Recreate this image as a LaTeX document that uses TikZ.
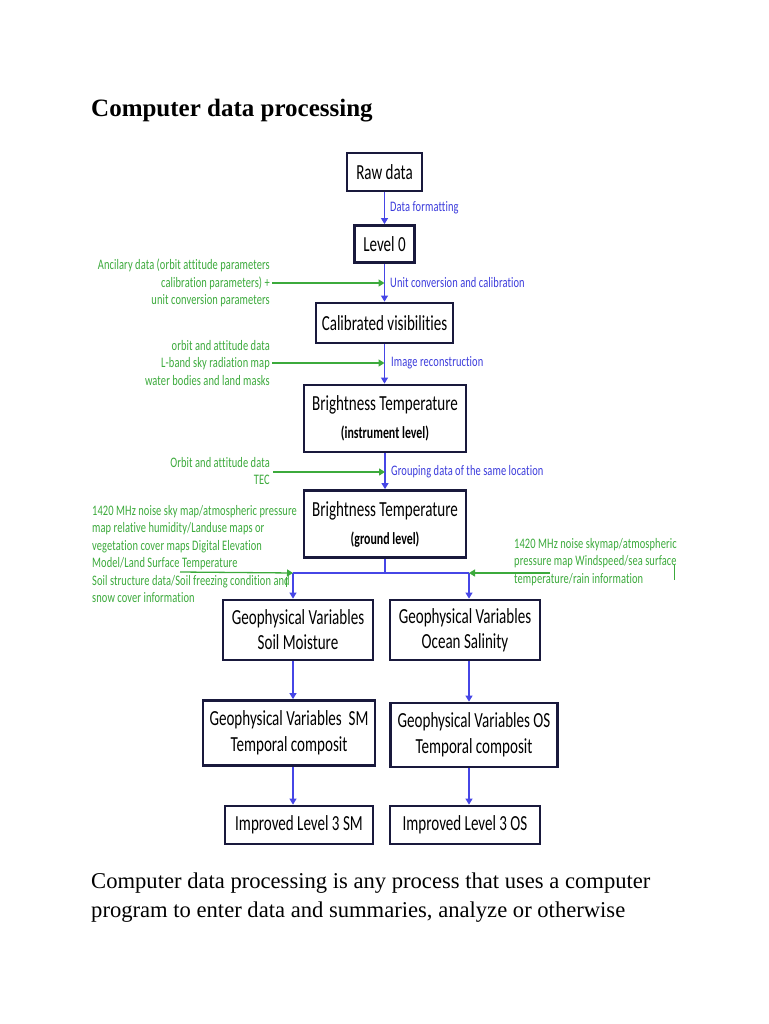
\documentclass[tikz,border=0pt]{standalone}
\usepackage{fontspec}
\setmainfont{Liberation Serif}
\newfontfamily\boxfont[FakeStretch=0.7,Ligatures=NoCommon]{Carlito}
\newfontfamily\labfont[FakeStretch=0.72,Ligatures=NoCommon,LetterSpace=0.7]{Carlito}
\newcommand\sublinefont{\boxfont\bfseries\fontsize{17}{20}\selectfont}
\usetikzlibrary{arrows.meta}
\definecolor{bxline}{RGB}{25,25,60}
\definecolor{ablue}{RGB}{70,70,230}
\definecolor{lblue}{RGB}{60,60,220}
\definecolor{agreen}{RGB}{60,170,60}
\tikzset{
  fbox/.style={draw=bxline,line width=2.8pt,fill=white,inner sep=0pt,align=center,
    font=\boxfont\fontsize{21.5}{26}\selectfont},
  barrow/.style={draw=ablue,line width=1.1pt,-{Triangle[width=7pt,length=6pt]}},
  bline/.style={draw=ablue,line width=1.1pt},
  garrow/.style={draw=agreen,line width=1.3pt,-{Triangle[width=7pt,length=6pt]}},
  glabel/.style={text=agreen,inner sep=2pt,font=\labfont\fontsize{14.5}{17.5}\selectfont},
  blabel/.style={text=lblue,inner sep=0pt,anchor=west,font=\labfont\fontsize{14.5}{17.5}\selectfont}
}
\begin{document}
\begin{tikzpicture}[x=1pt,y=-1pt]
\useasboundingbox[fill=white] (0,0) rectangle (768,1024);
% title and text
\node[anchor=base west,inner sep=0pt,font=\bfseries\fontsize{25}{30}\selectfont] (title) at (91,117) {Computer data processing};
\node[anchor=base west,inner sep=0pt,font=\fontsize{22.6}{29}\selectfont] (body1) at (91,888) {Computer data processing is any process that uses a computer};
\node[anchor=base west,inner sep=0pt,font=\fontsize{22.6}{29}\selectfont] (body2) at (91,917) {program to enter data and summaries, analyze or otherwise};
% boxes
\node[fbox,minimum width=75pt,minimum height=38pt] (raw) at (384.5,172) {Raw data};
\node[fbox,minimum width=60pt,minimum height=37pt] (lvl0) at (384.5,244) {Level 0};
\node[fbox,minimum width=137pt,minimum height=40pt] (cal) at (384.5,323) {Calibrated visibilities};
\node[fbox,minimum width=162pt,minimum height=67pt] (bti) at (385,418.5) {Brightness Temperature\\[2pt]{\sublinefont (instrument level)}};
\node[fbox,minimum width=162pt,minimum height=67pt] (btg) at (385,524) {Brightness Temperature\\[2pt]{\sublinefont (ground level)}};
\node[fbox,minimum width=150pt,minimum height=60pt,font=\boxfont\fontsize{21.5}{25}\selectfont] (gsm) at (298,630) {Geophysical Variables\\Soil Moisture};
\node[fbox,minimum width=150pt,minimum height=60pt,font=\boxfont\fontsize{21.5}{25}\selectfont] (gos) at (465,630) {Geophysical Variables\\Ocean Salinity};
\node[fbox,minimum width=172pt,minimum height=65pt] (tsm) at (289,733) {Geophysical Variables \ SM\\Temporal composit};
\node[fbox,minimum width=167pt,minimum height=64pt] (tos) at (474,735) {Geophysical Variables OS\\Temporal composit};
\node[fbox,minimum width=148pt,minimum height=38pt] (ism) at (299,825) {Improved Level 3 SM};
\node[fbox,minimum width=150pt,minimum height=38pt] (ios) at (465,825) {Improved Level 3 OS};
% main chain
\draw[barrow] (raw.south) -- (lvl0.north);
\draw[barrow] (lvl0.south) -- (lvl0.south |- cal.north);
\draw[barrow] (cal.south) -- (cal.south |- bti.north);
\draw[barrow] (bti.south) -- (bti.south |- btg.north);
% blue labels
\node[blabel] (lab1) at (390,208) {Data formatting};
\node[blabel] (lab2) at (390,283) {Unit conversion and calibration};
\node[blabel] (lab3) at (391,363) {Image reconstruction};
\node[blabel] (lab4) at (391,472) {Grouping data of the same location};
% branch
\coordinate (J) at (385,573);
\coordinate (L) at (293,573);
\coordinate (R) at (469,573);
\draw[bline] (btg.south) -- (J);
\draw[bline] (L) -- (R);
\draw[barrow] (L) -- (L |- gsm.north);
\draw[barrow] (R) -- (R |- gos.north);
\draw[barrow] (gsm.south -| L) -- (tsm.north -| L);
\draw[barrow] (gos.south -| R) -- (tos.north -| R);
\draw[barrow] (tsm.south -| L) -- (ism.north -| L);
\draw[barrow] (tos.south -| R) -- (ios.north -| R);
% green inputs
\node[glabel,anchor=east,align=right] (g1) at (272,283) {Ancilary data (orbit attitude parameters\\calibration parameters) +\\unit conversion parameters};
\draw[garrow] (g1.east) -- (g1.east -| lvl0);
\node[glabel,anchor=east,align=right] (g2) at (272,363) {orbit and attitude data\\L-band sky radiation map\\water bodies and land masks};
\draw[garrow] (g2.east) -- (g2.east -| cal);
\node[glabel,anchor=east,align=right] (g3) at (272,471) {Orbit and attitude data\\TEC};
\coordinate (g3a) at (273,472);
\draw[garrow] (g3a) -- (g3a -| bti);
\node[glabel,anchor=north west,align=left] (g4) at (90,503) {1420 MHz noise sky map/atmospheric pressure\\map relative humidity/Landuse maps or\\vegetation cover maps Digital Elevation\\Model/Land Surface Temperature\\Soil structure data/Soil freezing condition and\\snow cover information};
\coordinate (g4a) at (180,572);
\draw[garrow] (g4a) -- (L);
\draw[agreen,line width=1pt] (286,577) -- (286,587);
\node[glabel,anchor=north west,align=left] (g5) at (512,536) {1420 MHz noise skymap/atmospheric\\pressure map Windspeed/sea surface\\temperature/rain information};
\coordinate (g5a) at (550,573);
\draw[garrow] (g5a) -- (R);
\draw[agreen,line width=1pt] (674,565) -- (674,580);
\end{tikzpicture}
\end{document}
